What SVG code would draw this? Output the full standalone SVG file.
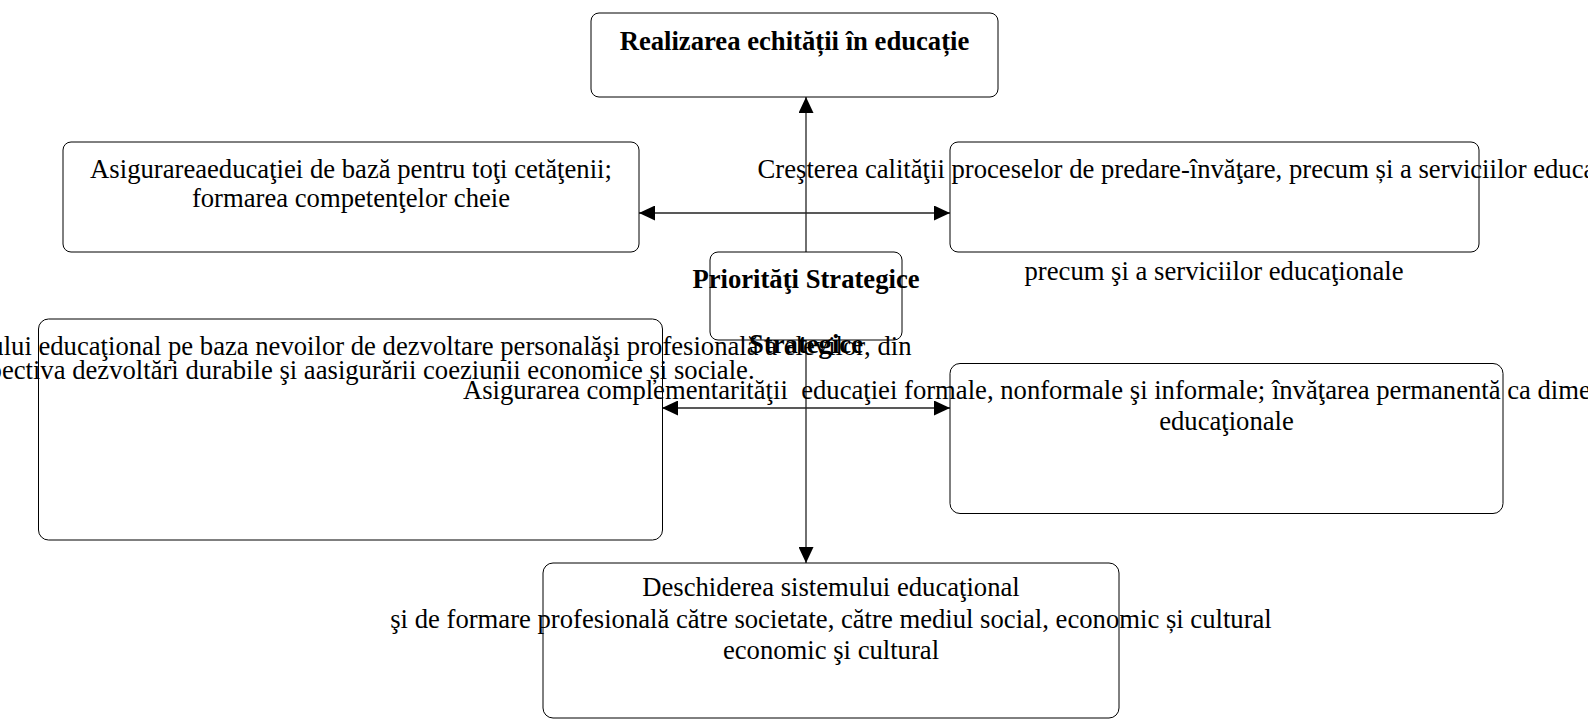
<svg xmlns="http://www.w3.org/2000/svg" width="1588" height="719" viewBox="0 0 1588 719">
<defs>
<style>
.box{fill:none;stroke:#000;stroke-width:1}
.cbox{fill:#fff;stroke:#000;stroke-width:1}
.t{font-family:"Liberation Serif","Times New Roman",serif;font-size:26.67px;fill:#000}
.b{font-weight:bold}
.m{text-anchor:middle}
.e{text-anchor:end}
.ln{stroke:#222;stroke-width:1.3;fill:none;marker-start:url(#ah);marker-end:url(#ah)}
</style>
<marker id="ah" viewBox="0 0 16 15" refX="16" refY="7.5" markerWidth="16" markerHeight="15" markerUnits="userSpaceOnUse" orient="auto-start-reverse">
<path d="M0,0 L16,7.5 L0,15 z" fill="#000"/>
</marker>
</defs>
<g id="connectors">
<line class="ln" x1="806" y1="97" x2="806" y2="563"/>
<line class="ln" x1="639" y1="213" x2="950" y2="213"/>
<line class="ln" x1="662" y1="408" x2="950" y2="408"/>
</g>
<g id="center">
<rect class="cbox" x="710" y="252" width="192" height="88" rx="8"/>
<text class="t b m" x="806" y="287.5">Priorităţi Strategice</text>
<text class="t b m" x="806" y="352.5">Strategice</text>
</g>
<g id="top">
<rect class="box" x="591" y="13" width="407" height="84" rx="8"/>
<text class="t b m" x="794.5" y="50">Realizarea echită<tspan>ț</tspan>ii în educa<tspan>ț</tspan>ie</text>
</g>
<g id="left-upper">
<rect class="box" x="63" y="142" width="576" height="110" rx="8"/>
<text class="t m" x="351" y="178">Asigurareaeducaţiei de bază pentru toţi cetăţenii;</text>
<text class="t m" x="351" y="206.5">formarea competenţelor cheie</text>
</g>
<g id="right-upper">
<rect class="box" x="950" y="142" width="529" height="110" rx="8"/>
<text class="t" x="757.6" y="178">Creşterea calităţii proceselor de predare-învăţare, precum și a serviciilor educaţionale</text>
<text class="t m" x="1214" y="279.5">precum şi a serviciilor educaţionale</text>
</g>
<g id="left-lower">
<rect class="box" x="38.5" y="319" width="624" height="221" rx="10"/>
<text class="t e" x="911.5" y="354.5">ului educaţional pe baza nevoilor de dezvoltare personalăşi profesională a elevilor, din</text>
<text class="t e" x="754.6" y="378.8">pectiva dezvoltări durabile şi aasigurării coeziunii economice și sociale.</text>
</g>
<g id="right-lower">
<rect class="box" x="950" y="363.5" width="553" height="150" rx="10"/>
<text class="t" x="462.9" y="399" style="white-space:pre">Asigurarea complementarităţii  educaţiei formale, nonformale şi informale; învăţarea permanentă ca dimensiune</text>
<text class="t m" x="1226.5" y="430">educaţionale</text>
</g>
<g id="bottom">
<rect class="box" x="543" y="563" width="576" height="155" rx="10"/>
<text class="t m" x="831" y="595.5">Deschiderea sistemului educaţional</text>
<text class="t m" x="831" y="628">şi de formare profesională către societate, către mediul social, economic și cultural</text>
<text class="t m" x="831" y="659">economic şi cultural</text>
</g>
</svg>
